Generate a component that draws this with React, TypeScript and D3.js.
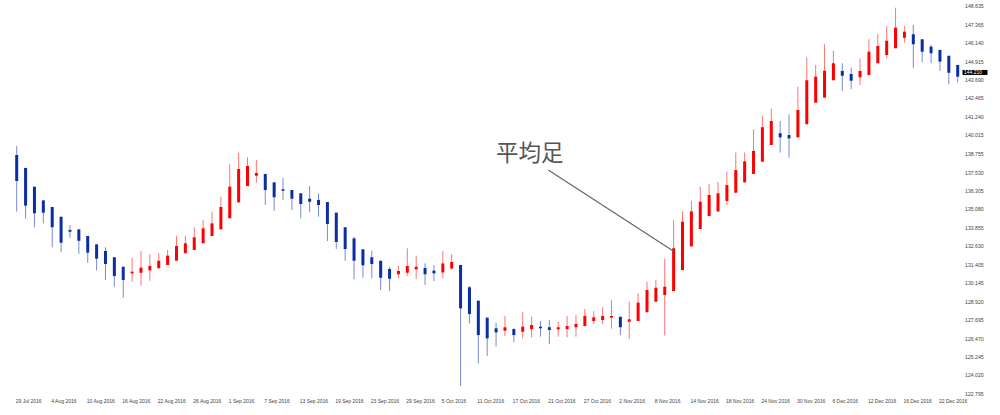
import React from "react";
import * as d3 from "d3";

const openP = [138.71,137.85,136.60,135.69,135.25,134.60,133.72,133.76,133.32,132.76,132.32,131.90,131.27,130.83,130.87,131.03,131.17,131.39,131.67,132.17,132.39,132.83,133.32,133.76,134.50,135.56,136.65,137.33,137.45,136.89,136.43,136.38,136.16,135.80,135.72,135.58,134.87,133.90,133.16,132.43,131.90,131.67,131.12,130.77,130.87,131.10,131.19,131.01,130.89,131.15,131.39,129.90,129.01,127.88,127.17,127.01,127.12,126.94,127.12,127.28,127.24,127.10,127.12,127.24,127.32,127.66,127.72,127.88,127.94,127.61,127.66,128.24,128.94,129.39,129.65,131.05,132.63,133.78,134.65,134.95,135.65,136.20,136.89,137.45,138.27,139.38,140.16,140.04,139.89,140.76,142.20,142.53,143.69,144.31,144.11,143.89,144.04,144.82,145.37,145.82,146.52,146.75,146.42,145.93,145.71,145.31,144.71];
const closeP = [136.98,135.34,134.83,134.87,133.90,132.87,133.60,133.00,132.21,131.81,131.45,130.65,130.39,130.94,131.21,131.32,131.67,132.01,132.65,132.83,133.23,133.83,134.16,135.25,136.60,137.78,137.98,137.51,136.38,135.90,136.33,135.80,135.45,135.60,135.38,134.12,132.92,132.45,131.67,131.37,131.45,130.54,130.47,130.99,131.32,131.27,130.77,130.83,131.49,131.59,128.50,128.12,126.72,126.50,126.90,127.24,126.72,127.28,127.39,127.17,127.06,127.24,127.32,127.46,127.99,127.90,127.99,127.99,127.24,127.77,128.88,129.72,129.87,129.94,132.50,134.27,134.96,135.60,136.05,136.16,136.71,137.71,138.29,138.98,140.56,140.98,139.89,139.82,141.71,143.69,143.93,144.32,144.82,143.99,143.66,144.31,145.59,145.97,146.32,147.19,146.92,146.09,145.59,145.49,144.93,144.19,143.93];
const highP = [139.31,137.85,136.60,135.69,135.25,134.60,134.05,133.76,133.32,132.76,132.57,131.90,131.27,131.87,132.32,132.10,132.17,132.39,133.32,133.32,133.90,134.38,134.92,135.94,138.09,138.87,138.56,138.38,137.45,136.89,137.18,136.38,136.16,136.65,136.16,135.58,134.87,133.90,133.27,132.43,132.34,131.67,131.27,131.34,132.50,132.01,131.50,131.39,132.32,132.12,131.39,129.99,129.01,127.88,127.54,127.99,127.17,128.24,127.94,127.66,127.72,127.61,127.99,128.06,128.46,128.32,128.57,129.06,127.94,128.94,129.50,130.27,130.39,131.79,134.38,134.96,135.65,136.60,136.78,136.93,137.61,138.88,138.88,140.42,141.33,141.80,140.98,141.42,143.26,145.21,144.71,146.09,145.66,144.82,144.53,145.15,146.42,146.77,147.30,148.52,147.30,147.37,146.42,146.04,145.71,145.37,144.71];
const lowP = [134.94,134.47,133.90,134.16,132.56,132.23,133.20,132.12,131.54,131.03,130.39,129.94,129.21,130.27,130.01,130.34,131.17,131.39,131.67,132.17,132.39,132.83,133.32,133.76,134.50,135.56,136.65,136.87,135.38,134.98,135.72,135.05,134.50,134.90,134.60,132.98,132.45,131.67,130.43,130.54,130.50,129.72,129.65,130.50,130.67,130.43,130.05,130.32,130.50,131.10,123.33,127.50,124.84,125.33,125.95,126.66,126.24,126.50,126.57,126.61,126.12,126.61,126.57,126.61,127.32,127.44,127.46,127.14,126.72,126.46,127.66,128.24,128.94,126.69,129.65,131.05,132.63,133.78,134.65,134.95,135.38,136.20,136.89,137.45,138.27,139.38,138.87,138.53,139.89,140.76,142.20,142.53,143.69,142.97,143.09,143.37,144.04,144.82,145.15,145.82,146.19,144.49,144.89,144.82,144.31,143.42,143.55];

const priceTicks = ["148.635","147.365","146.140","144.915","143.690","142.465","141.240","140.015","138.755","137.530","136.305","135.080","133.855","132.630","131.405","130.145","128.920","127.695","126.470","125.245","124.020","122.795"];
const dateTicks = ["29 Jul 2016","4 Aug 2016","10 Aug 2016","16 Aug 2016","22 Aug 2016","26 Aug 2016","1 Sep 2016","7 Sep 2016","13 Sep 2016","19 Sep 2016","23 Sep 2016","29 Sep 2016","5 Oct 2016","11 Oct 2016","17 Oct 2016","21 Oct 2016","27 Oct 2016","2 Nov 2016","8 Nov 2016","14 Nov 2016","18 Nov 2016","24 Nov 2016","30 Nov 2016","6 Dec 2016","12 Dec 2016","16 Dec 2016","22 Dec 2016"];
const dateTickBars = dateTicks.map((_, i) => i * 4);
const currentPrice = "144.210";
const annotationText = "平均足";
const annotationBar = 74;
const annotationPrice = 132.3;

const W = 1000, H = 415;
const RED = "#ff0000", BLUE = "#0b2ea3";

export default function App() {
  const n = openP.length;
  const x = d3.scaleLinear().domain([0, n - 1]).range([16.7, 957.7]);
  const y = d3.scaleLinear().domain([122.795, 148.635]).range([394, 6]);
  const bodyW = 3;
  const fontFam = "'Liberation Sans', Arial, sans-serif";
  const cpY = y(+currentPrice);

  return (
    <svg width={W} height={H} style={{ position: "absolute", left: 0, top: 0, background: "#fff" }}>
      {openP.map((o, i) => {
        const c = closeP[i];
        const up = c >= o;
        const col = up ? RED : BLUE;
        const cx = x(i);
        const top = y(Math.max(o, c));
        const bot = y(Math.min(o, c));
        return (
          <g key={i}>
            <line x1={cx} x2={cx} y1={y(highP[i])} y2={y(lowP[i])} stroke={col} strokeWidth={1} strokeOpacity={0.55} />
            <rect x={cx - bodyW / 2} y={top} width={bodyW} height={Math.max(1.5, bot - top)} fill={col} />
          </g>
        );
      })}
      {priceTicks.map((t) => (
        <text key={t} x={965} y={y(+t)} dy="0.35em" fontSize={5.2} fontFamily={fontFam} fill="#444">{t}</text>
      ))}
      <rect x={962.5} y={cpY - 2.5} width={25} height={5} fill="#000" />
      <text x={964} y={cpY} dy="0.35em" fontSize={5} fontFamily={fontFam} fill="#fff">{currentPrice}</text>
      {dateTicks.map((t, i) => (
        <text key={t} x={x(dateTickBars[i]) - 1} y={401} dy="0.35em" fontSize={5} fontFamily={fontFam} fill="#444">{t}</text>
      ))}
      <text x={496} y={161} fontSize={22.5} fontFamily="'Noto Sans CJK JP', sans-serif" fill="#555">{annotationText}</text>
      <line x1={548.3} y1={170} x2={x(annotationBar)} y2={y(annotationPrice)} stroke="#666" strokeWidth={1.2} />
    </svg>
  );
}
